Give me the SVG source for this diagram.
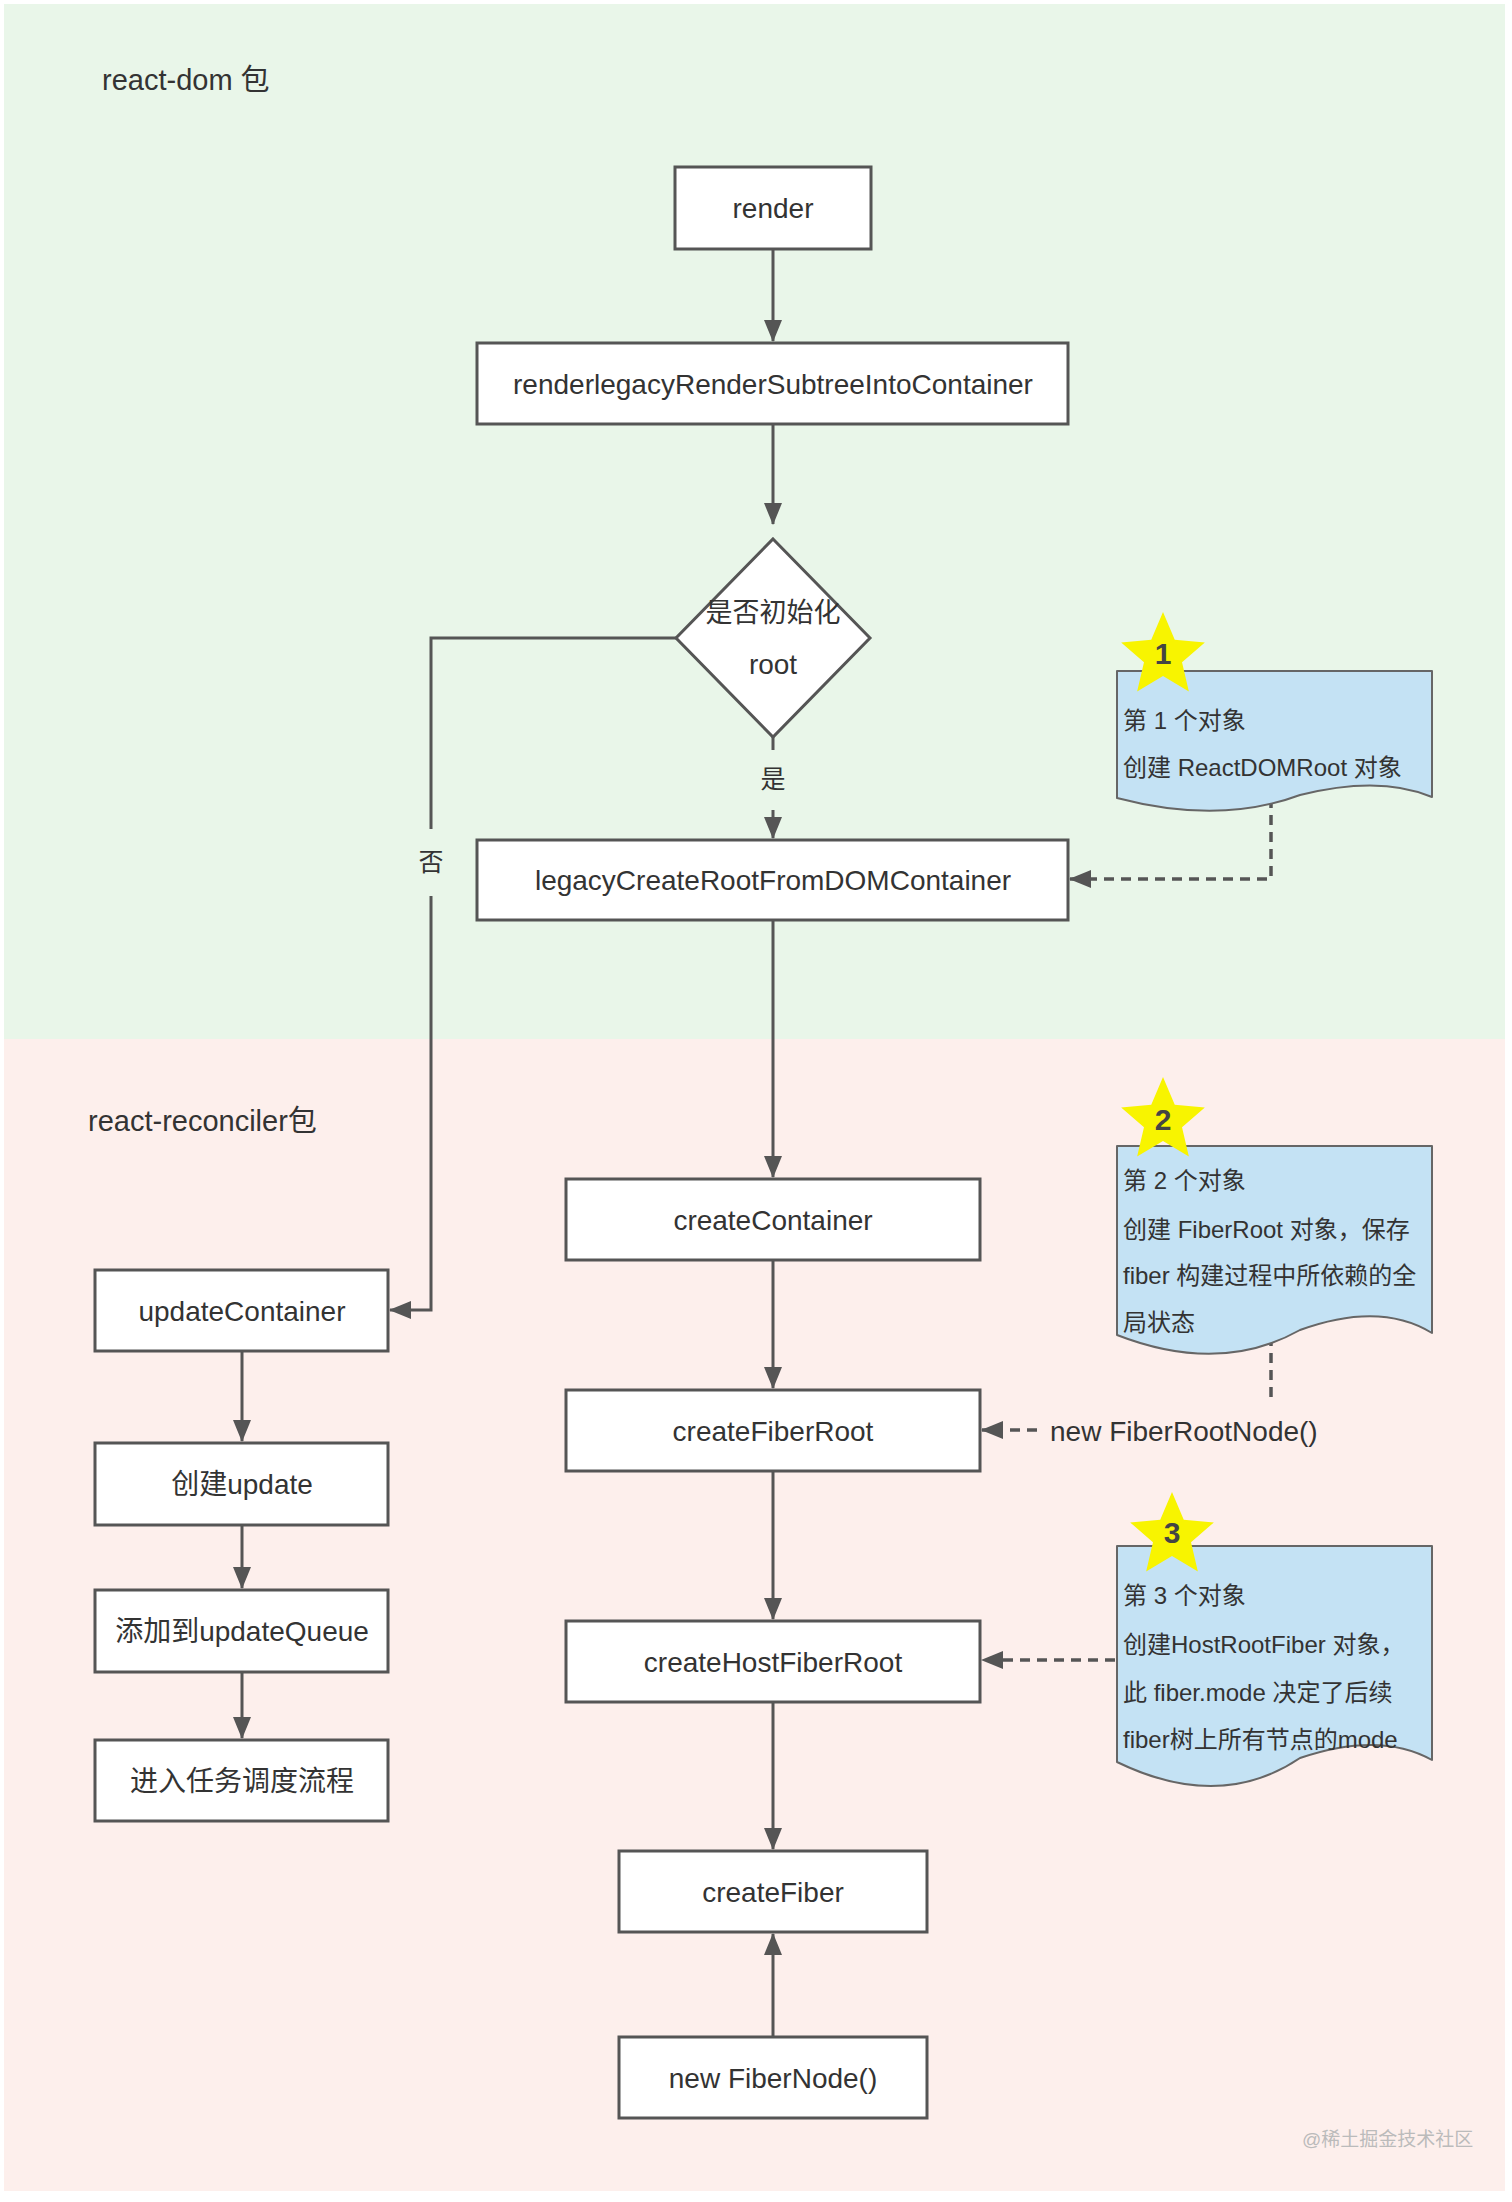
<svg xmlns="http://www.w3.org/2000/svg" width="1512" height="2202" viewBox="0 0 1512 2202">
<style>
.t{font-family:"Liberation Sans","Noto Sans CJK SC",sans-serif;fill:#333;}
.box{fill:#fff;stroke:#555;stroke-width:3;}
.bt{font-size:28px;text-anchor:middle;dominant-baseline:central;}
.ln{fill:none;stroke:#555;stroke-width:3;}
.dl{fill:none;stroke:#555;stroke-width:3.5;stroke-dasharray:10 7;}
.doc{fill:#c4e2f4;stroke:#666;stroke-width:2;stroke-linejoin:round;}
.dt{font-size:24px;}
.num{font-family:"Liberation Sans",sans-serif;font-size:30px;font-weight:bold;fill:#444;text-anchor:middle;}
</style>
<defs>
<marker id="ah" markerUnits="userSpaceOnUse" markerWidth="22" markerHeight="18" refX="21" refY="9" orient="auto">
<path d="M0,0 L22,9 L0,18 z" fill="#555"/>
</marker>
<polygon id="star" points="0,-44 11.76,-16.18 41.85,-13.6 19.02,6.18 25.86,35.6 0,20 -25.86,35.6 -19.02,6.18 -41.85,-13.6 -11.76,-16.18" fill="#f8f400"/>
</defs>
<rect x="0" y="0" width="1512" height="2202" fill="#fff"/>
<rect x="4" y="4" width="1501" height="1035" fill="#e9f6e9"/>
<rect x="4" y="1039" width="1501" height="1152" fill="#fdefec"/>
<text class="t" x="102" y="90" font-size="29">react-dom 包</text>
<text class="t" x="88" y="1131" font-size="29">react-reconciler包</text>

<g id="connectors">
<path class="ln" d="M773,249 V341" marker-end="url(#ah)"/>
<path class="ln" d="M773,424 V524" marker-end="url(#ah)"/>
<path class="ln" d="M773,737 V750"/>
<path class="ln" d="M773,810 V838" marker-end="url(#ah)"/>
<text class="t" x="773" y="779" font-size="25" text-anchor="middle" dominant-baseline="central">是</text>
<path class="ln" d="M676,638 H431 V829 M431,896 V1310 H390" marker-end="url(#ah)"/>
<text class="t" x="431" y="862" font-size="25" text-anchor="middle" dominant-baseline="central">否</text>
<path class="ln" d="M773,920 V1177" marker-end="url(#ah)"/>
<path class="ln" d="M773,1260 V1388" marker-end="url(#ah)"/>
<path class="ln" d="M773,1471 V1619" marker-end="url(#ah)"/>
<path class="ln" d="M773,1702 V1849" marker-end="url(#ah)"/>
<path class="ln" d="M773,2037 V1934" marker-end="url(#ah)"/>
<path class="ln" d="M242,1351 V1441" marker-end="url(#ah)"/>
<path class="ln" d="M242,1525 V1588" marker-end="url(#ah)"/>
<path class="ln" d="M242,1672 V1738" marker-end="url(#ah)"/>
<path class="dl" d="M1271,798 V879 H1070" marker-end="url(#ah)"/>
<path class="dl" d="M1271,1336 V1402"/>
<path class="dl" d="M1037,1430 H982" marker-end="url(#ah)"/>
<path class="dl" d="M1115,1660 H982" marker-end="url(#ah)"/>
</g>

<g id="render"><rect class="box" x="675" y="167" width="196" height="82"/><text class="t bt" x="773" y="208">render</text></g>
<g id="renderLegacy"><rect class="box" x="477" y="343" width="591" height="81"/><text class="t bt" x="773" y="384">renderlegacyRenderSubtreeIntoContainer</text></g>
<g id="decision"><polygon class="box" points="773,539 870,638 773,737 676,638"/><text class="t" x="773" y="613" font-size="27" text-anchor="middle" dominant-baseline="central">是否初始化</text><text class="t bt" x="773" y="664">root</text></g>
<g id="legacyCreate"><rect class="box" x="477" y="840" width="591" height="80"/><text class="t bt" x="773" y="880">legacyCreateRootFromDOMContainer</text></g>
<g id="createContainer"><rect class="box" x="566" y="1179" width="414" height="81"/><text class="t bt" x="773" y="1220">createContainer</text></g>
<g id="createFiberRoot"><rect class="box" x="566" y="1390" width="414" height="81"/><text class="t bt" x="773" y="1431">createFiberRoot</text></g>
<g id="createHostFiberRoot"><rect class="box" x="566" y="1621" width="414" height="81"/><text class="t bt" x="773" y="1662">createHostFiberRoot</text></g>
<g id="createFiber"><rect class="box" x="619" y="1851" width="308" height="81"/><text class="t bt" x="773" y="1892">createFiber</text></g>
<g id="newFiberNode"><rect class="box" x="619" y="2037" width="308" height="81"/><text class="t bt" x="773" y="2078">new FiberNode()</text></g>
<g id="updateContainer"><rect class="box" x="95" y="1270" width="293" height="81"/><text class="t bt" x="242" y="1311">updateContainer</text></g>
<g id="createUpdate"><rect class="box" x="95" y="1443" width="293" height="82"/><text class="t bt" x="242" y="1484">创建update</text></g>
<g id="enqueue"><rect class="box" x="95" y="1590" width="293" height="82"/><text class="t bt" x="242" y="1631">添加到updateQueue</text></g>
<g id="schedule"><rect class="box" x="95" y="1740" width="293" height="81"/><text class="t bt" x="242" y="1781">进入任务调度流程</text></g>
<g id="newFiberRootNode"><text class="t" x="1050" y="1441" font-size="28">new FiberRootNode()</text></g>

<g id="note1">
<path class="doc" d="M1117,671 H1432 V797 Q1380,775 1300,795 Q1220,825 1117,798 Z"/>
<use href="#star" x="1163" y="656"/>
<text class="num" x="1163" y="664">1</text>
<text class="t dt" x="1123" y="729">第 1 个对象</text>
<text class="t dt" x="1123" y="776">创建 ReactDOMRoot 对象</text>
</g>
<g id="note2">
<path class="doc" d="M1117,1146 H1432 V1333 Q1380,1301 1300,1330 Q1220,1375 1117,1335 Z"/>
<use href="#star" x="1163" y="1121"/>
<text class="num" x="1163" y="1130">2</text>
<text class="t dt" x="1123" y="1189">第 2 个对象</text>
<text class="t dt" x="1123" y="1238">创建 FiberRoot 对象，保存</text>
<text class="t dt" x="1123" y="1284">fiber 构建过程中所依赖的全</text>
<text class="t dt" x="1123" y="1331">局状态</text>
</g>
<g id="note3">
<path class="doc" d="M1117,1546 H1432 V1760 Q1380,1731 1300,1758 Q1220,1812 1117,1762 Z"/>
<use href="#star" x="1172" y="1536"/>
<text class="num" x="1172" y="1543">3</text>
<text class="t dt" x="1123" y="1604">第 3 个对象</text>
<text class="t dt" x="1123" y="1653">创建HostRootFiber 对象，</text>
<text class="t dt" x="1123" y="1701">此 fiber.mode 决定了后续</text>
<text class="t dt" x="1123" y="1748">fiber树上所有节点的mode</text>
</g>
<text x="1302" y="2146" font-family="'Liberation Sans','Noto Sans CJK SC',sans-serif" font-size="19" fill="#bbb">@稀土掘金技术社区</text>
</svg>
